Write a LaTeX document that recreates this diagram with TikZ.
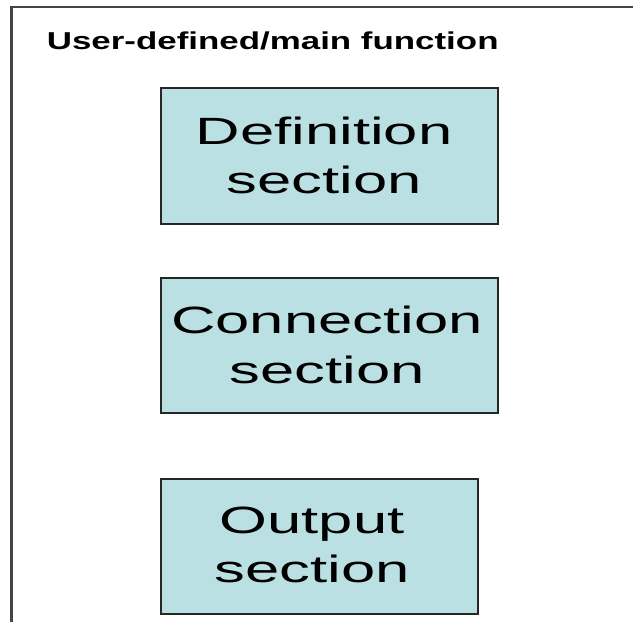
\documentclass[tikz,border=0pt]{standalone}
\usepackage{fontspec}
\setmainfont{Liberation Sans}
\usepackage{graphicx}
\definecolor{boxfill}{HTML}{BAE0E3}
\definecolor{boxline}{HTML}{262626}
\definecolor{frameline}{HTML}{444444}
% two-line label, stretched horizontally
\newcommand{\seclabel}[1]{\scalebox{1.62}[1]{\begin{tabular}[t]{@{}c@{}}#1\end{tabular}}}
\tikzset{
  secbox/.style={draw=boxline, line width=1.6pt, fill=boxfill, rectangle,
    inner sep=0pt, anchor=north west},
  seclbl/.style={anchor=base, inner sep=0pt,
    font=\fontsize{38}{49.4}\selectfont},
  titlelbl/.style={anchor=base west, inner sep=0pt,
    font=\fontsize{24.4}{29}\selectfont\bfseries},
}
\begin{document}
\begin{tikzpicture}[x=1pt, y=-1pt]
  \useasboundingbox (0,0) rectangle (633,622);
  % outer function frame (top and left sides)
  \coordinate (fr-tr) at (633,7);
  \coordinate (fr-tl) at (11.5,7);
  \coordinate (fr-bl) at (11.5,622);
  \draw[frameline, line width=2.4pt] (fr-tr) -- (fr-tl) -- (fr-bl);

  \node[titlelbl] (title) at (46.7,49.3) {\scalebox{1.43}[1]{User-defined/main function}};

  % sections
  \node[secbox, minimum width=337pt, minimum height=136pt] (def) at (160,87) {};
  \node[secbox, minimum width=337pt, minimum height=135pt] (con) at (160,277) {};
  \node[secbox, minimum width=317pt, minimum height=135pt] (out) at (160,478) {};

  \node[seclbl] (deftxt) at (324,144.3) {\seclabel{Definition\\section}};
  \node[seclbl] (contxt) at (327,333.7) {\seclabel{Connection\\section}};
  \node[seclbl] (outtxt) at (312,533) {\seclabel{Output\\section}};
\end{tikzpicture}
\end{document}
